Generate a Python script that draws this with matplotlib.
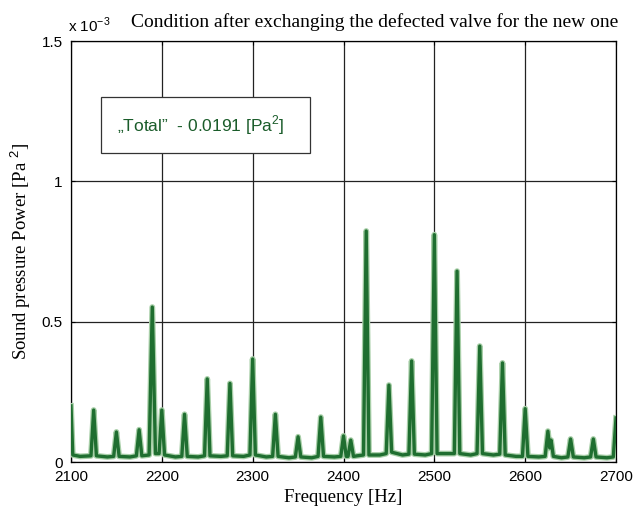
import matplotlib.pyplot as plt
from matplotlib.patches import Rectangle

# Spectrum, power in units of 1e-3 Pa^2
freq_hz = [2100, 2102, 2110,
           2122, 2125, 2128, 2140,
           2147, 2150, 2153, 2165,
           2172, 2175, 2178, 2186,
           2189.5, 2193, 2197,
           2200, 2203, 2215,
           2222, 2225, 2228, 2240,
           2247, 2250, 2253, 2265,
           2272, 2275, 2278, 2290,
           2297, 2300, 2303, 2315,
           2322, 2325, 2328, 2340,
           2347, 2350, 2353, 2365,
           2372, 2375, 2378, 2390,
           2397, 2400, 2403, 2405,
           2408, 2411, 2415,
           2422, 2425, 2428, 2440,
           2447, 2450, 2453, 2465,
           2472, 2475, 2478, 2490,
           2497, 2500, 2503, 2515,
           2522, 2525, 2528, 2540,
           2547, 2550, 2553, 2565,
           2572, 2575, 2578, 2590,
           2597, 2600, 2603, 2615,
           2622, 2625, 2627, 2628.5, 2631, 2640,
           2647, 2650, 2653, 2665,
           2672, 2675, 2678, 2690,
           2697, 2700]
power_e3 = [0.20, 0.025, 0.02,
            0.022, 0.185, 0.022, 0.018,
            0.02, 0.107, 0.02, 0.018,
            0.022, 0.115, 0.022, 0.025,
            0.552, 0.03, 0.03,
            0.185, 0.025, 0.018,
            0.02, 0.17, 0.02, 0.018,
            0.022, 0.296, 0.022, 0.02,
            0.022, 0.28, 0.022, 0.02,
            0.025, 0.367, 0.025, 0.018,
            0.02, 0.17, 0.02, 0.015,
            0.018, 0.09, 0.018, 0.015,
            0.02, 0.16, 0.02, 0.018,
            0.02, 0.093, 0.02, 0.02,
            0.078, 0.02, 0.022,
            0.025, 0.823, 0.025, 0.025,
            0.03, 0.274, 0.035, 0.025,
            0.028, 0.36, 0.028, 0.025,
            0.03, 0.81, 0.03, 0.03,
            0.03, 0.68, 0.03, 0.025,
            0.03, 0.413, 0.03, 0.025,
            0.028, 0.353, 0.025, 0.02,
            0.02, 0.19, 0.02, 0.018,
            0.02, 0.11, 0.05, 0.078, 0.02, 0.015,
            0.018, 0.082, 0.018, 0.015,
            0.018, 0.082, 0.018, 0.015,
            0.018, 0.157]

x_ticks = [2100, 2200, 2300, 2400, 2500, 2600, 2700]
y_ticks = [0, 0.5, 1, 1.5]
y_ticklabels = ['0', '0.5', '1', '1.5']

title = 'Condition after exchanging the defected valve for the new one'
total_label = '\u201eTotal\u201d  - 0.0191 [Pa$^2$]'

serif = 'Liberation Serif'
sans = 'Liberation Sans'
plt.rcParams['mathtext.fontset'] = 'custom'
plt.rcParams['mathtext.rm'] = sans

fig = plt.figure(figsize=(6.36, 5.18), dpi=100)
fig.patch.set_facecolor('white')
ax = fig.add_axes([0.1116, 0.1081, 0.857, 0.8127])

# light halo under the dark trace
ax.plot(freq_hz, power_e3, color='#a8cfa8', lw=4.2, solid_joinstyle='round', zorder=3)
ax.plot(freq_hz, power_e3, color='#1f6e30', lw=2.4, solid_joinstyle='round', zorder=4)

ax.set_xlim(2100, 2700)
ax.set_ylim(0, 1.5)
ax.set_xticks(x_ticks)
ax.set_xticklabels([str(t) for t in x_ticks], family=sans, fontsize=11)
ax.set_yticks(y_ticks)
ax.set_yticklabels(y_ticklabels, family=sans, fontsize=11)
ax.tick_params(direction='in', length=3, width=0.8, top=True, right=True, pad=6)
ax.grid(True, color='#222222', lw=0.9)
for s in ax.spines.values():
    s.set_linewidth(0.9)

ax.set_xlabel('Frequency [Hz]', family=serif, fontsize=13.5, labelpad=3)
ax.set_ylabel('Sound pressure Power [Pa $^2$]', family=serif, fontsize=13.5, labelpad=6)

# multiplier and title above the axes
fig.text(0.107, 0.938, 'x 10$^{-3}$', family=sans, fontsize=11, ha='left', va='baseline')
fig.text(0.972, 0.948, title, family=serif, fontsize=14, ha='right', va='baseline')

# boxed total value
ax.add_patch(Rectangle((2133, 1.1), 230, 0.2, facecolor='white', edgecolor='#333333',
                       lw=0.9, zorder=5))
ax.text(2151, 1.2, total_label, family=sans, fontsize=12.5, color='#1a5c2a',
        va='center', ha='left', zorder=6)

fig.savefig('out.png', dpi=100)
